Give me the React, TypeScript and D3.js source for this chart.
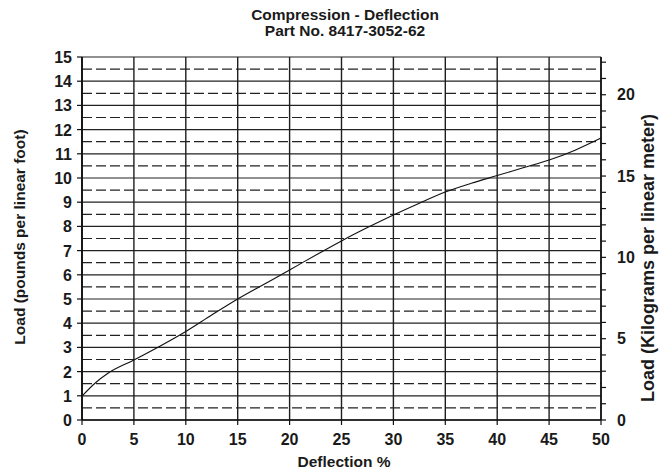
import React from "react";
import * as d3 from "d3";

const deflection = [0, 1.25, 2.5, 5, 7.5, 10, 12.5, 15, 17.5, 20, 22.5, 25, 27.5, 30, 32.5, 35, 37.5, 40, 42.5, 45, 47.5, 50];
const loadLbFt = [0.99, 1.52, 1.93, 2.48, 3.05, 3.66, 4.34, 5.0, 5.6, 6.2, 6.81, 7.4, 7.95, 8.47, 8.96, 9.42, 9.78, 10.1, 10.42, 10.74, 11.15, 11.65];

const xTicks = [0, 5, 10, 15, 20, 25, 30, 35, 40, 45, 50];
const yTicks = [0, 1, 2, 3, 4, 5, 6, 7, 8, 9, 10, 11, 12, 13, 14, 15];
const yHalfTicks = [0.5, 1.5, 2.5, 3.5, 4.5, 5.5, 6.5, 7.5, 8.5, 9.5, 10.5, 11.5, 12.5, 13.5, 14.5];
const kgTicks = [0, 1, 2, 3, 4, 5, 6, 7, 8, 9, 10, 11, 12, 13, 14, 15, 16, 17, 18, 19, 20, 21, 22];
const kgLabels = [0, 5, 10, 15, 20];
const LB_FT_TO_KG_M = 1.488;

const title1 = "Compression - Deflection";
const title2 = "Part No. 8417-3052-62";
const xTitle = "Deflection %";
const yTitle = "Load (pounds per linear foot)";
const y2Title = "Load (Kilograms per linear meter)";

const FONT = "'Liberation Sans', Arial, Helvetica, sans-serif";

export default function App() {
  const W = 662, H = 472;
  const L = 82, R = 601, T = 57, B = 420;
  const x = d3.scaleLinear().domain([0, 50]).range([L, R]);
  const y = d3.scaleLinear().domain([0, 15]).range([B, T]);
  const y2 = d3.scaleLinear().domain([0, 15 * LB_FT_TO_KG_M]).range([B, T]);

  const pts: [number, number][] = deflection.map((d, i) => [d, loadLbFt[i]]);
  const line = d3
    .line<[number, number]>()
    .x((d) => x(d[0]))
    .y((d) => y(d[1]))
    .curve(d3.curveMonotoneX);

  const ink = "#1a1a1a";

  return (
    <svg
      width={W}
      height={H}
      style={{ position: "absolute", left: 0, top: 0, background: "#fff" }}
      fontFamily={FONT}
      fontWeight="bold"
    >
      <rect x={0} y={0} width={W} height={H} fill="#fff" />
      {/* titles */}
      <text x={345} y={20} textAnchor="middle" fontSize={15.5} fill={ink}>{title1}</text>
      <text x={345} y={36} textAnchor="middle" fontSize={15.5} fill={ink}>{title2}</text>

      {/* dashed half-unit lines */}
      {yHalfTicks.map((v) => (
        <line key={"h" + v} x1={L} x2={R} y1={y(v)} y2={y(v)} stroke="#222" strokeWidth={1.2} strokeDasharray="10 4" />
      ))}
      {/* solid integer lines */}
      {yTicks.map((v) => (
        <line key={"g" + v} x1={L} x2={R} y1={y(v)} y2={y(v)} stroke="#222" strokeWidth={1.2} />
      ))}
      {/* vertical grid */}
      {xTicks.map((v) => (
        <line key={"v" + v} x1={x(v)} x2={x(v)} y1={T} y2={B} stroke="#1e1e1e" strokeWidth={1.4} />
      ))}
      {/* axis lines */}
      <line x1={L} x2={L} y1={T} y2={B} stroke="#111" strokeWidth={1.8} />
      <line x1={R} x2={R} y1={T} y2={B} stroke="#111" strokeWidth={1.5} />
      <line x1={L} x2={R} y1={B} y2={B} stroke="#111" strokeWidth={1.6} />

      {/* left ticks and labels */}
      {yTicks.map((v) => (
        <g key={"lt" + v}>
          <line x1={L - 5} x2={L} y1={y(v)} y2={y(v)} stroke="#111" strokeWidth={1.2} />
          <text x={72} y={y(v)} dy="0.38em" textAnchor="end" fontSize={16} fill={ink}>{v}</text>
        </g>
      ))}
      {/* bottom ticks and labels */}
      {xTicks.map((v) => (
        <g key={"bt" + v}>
          <line x1={x(v)} x2={x(v)} y1={B} y2={B + 5} stroke="#111" strokeWidth={1.2} />
          <text x={x(v)} y={445} textAnchor="middle" fontSize={16} fill={ink}>{v}</text>
        </g>
      ))}
      {/* right ticks and labels */}
      {kgTicks.map((v) => (
        <line key={"rt" + v} x1={R} x2={R + 5} y1={y2(v)} y2={y2(v)} stroke="#111" strokeWidth={1.2} />
      ))}
      {kgLabels.map((v) => (
        <text key={"rl" + v} x={617} y={y2(v)} dy="0.36em" textAnchor="start" fontSize={16} fill={ink}>{v}</text>
      ))}

      {/* curve */}
      <path d={line(pts) || ""} fill="none" stroke="#111" strokeWidth={1.1} />

      {/* axis titles */}
      <text x={344} y={467} textAnchor="middle" fontSize={15.5} fill={ink}>{xTitle}</text>
      <text transform={`translate(25,237) rotate(-90)`} textAnchor="middle" fontSize={15.5} fill={ink}>{yTitle}</text>
      <text transform={`translate(654,258) rotate(-90)`} textAnchor="middle" fontSize={18} fill={ink}>{y2Title}</text>
    </svg>
  );
}
